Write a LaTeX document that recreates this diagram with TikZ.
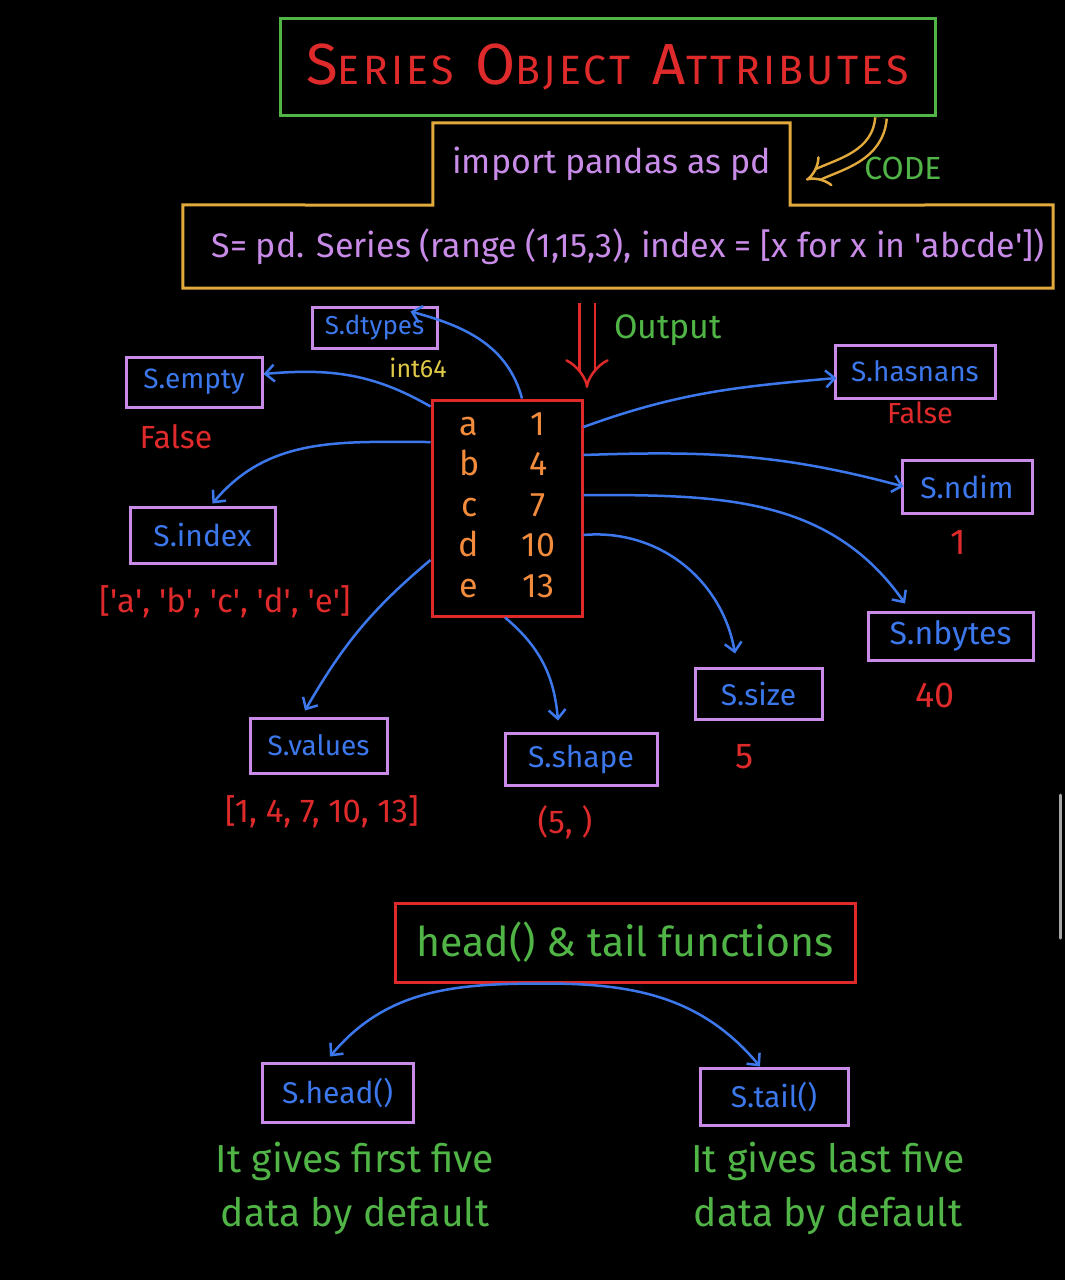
\documentclass[tikz,border=0pt]{standalone}
\usepackage{fontspec}
\setmainfont{Fira Sans}
\usetikzlibrary{arrows.meta}
\definecolor{cgreen}{RGB}{80,180,70}
\definecolor{cred}{RGB}{222,42,42}
\definecolor{cyellow}{RGB}{226,170,60}
\definecolor{cpurple}{RGB}{200,140,232}
\definecolor{cblue}{RGB}{60,120,236}
\definecolor{corange}{RGB}{242,140,60}
\definecolor{cint}{RGB}{222,200,70}
\newcommand\myfs[1]{\fontsize{#1}{#1}\selectfont}
\begin{document}
\begin{tikzpicture}[x=1pt,y=1pt,
  pbox/.style={draw=cpurple, line width=3pt, text=cblue, inner sep=0pt, font=\myfs{28}},
  conn/.style={draw=cblue, line width=2.5pt, -{Straight Barb[length=9pt,width=17pt]}},
  val/.style={text=cred, inner sep=0pt, font=\myfs{30}},
  note/.style={text=cgreen, inner sep=0pt, align=center, font=\fontsize{39}{54}\selectfont}]
\fill[black] (0,0) rectangle (1065,-1280);
\useasboundingbox (0,0) rectangle (1065,-1280);
% scrollbar
\draw[gray!70, line width=3pt, line cap=round] (1060,-795) -- (1060,-938);
% title
\node[draw=cgreen, line width=3pt, minimum width=655, minimum height=97, inner sep=0pt, text=cred]
  (title) at (607.5,-66.5)
  {\addfontfeature{LetterSpace=8}{\myfs{58}S}{\myfs{41}ERIES}\hspace{22pt}{\myfs{58}O}{\myfs{41}BJECT}\hspace{22pt}{\myfs{58}A}{\myfs{41}TTRIBUTES}};
% code boxes
\node[minimum width=357, minimum height=82, inner sep=0pt, text=cpurple, font=\myfs{34}]
  (imp) at (611.5,-164) {import pandas as pd};
\node[minimum width=870, minimum height=83, inner sep=0pt, text=cpurple, font=\myfs{34}]
  (ser) at (628,-246.5) {S= pd. Series (range (1,15,3), index = [x for x in \textquotesingle abcde\textquotesingle])};
\draw[cyellow, line width=3pt] ([xshift=-10pt]ser.north west) -- (imp.south west) -- (imp.north west) -- (imp.north east)
  -- (imp.south east) -- ([xshift=-10pt]ser.north east) -- ([xshift=-10pt]ser.south east) -- ([xshift=-10pt]ser.south west) -- cycle;
% CODE arrow
\node[text=cgreen, inner sep=0pt, font=\myfs{32}] (code) at (903,-168) {CODE};
\coordinate (codeA) at (881,-118);
\coordinate (codeB) at (806,-180);
\draw[cyellow, double=black, double distance=9pt, line width=2.5pt, -{Implies}] (codeA) to[out=-95,in=25] (codeB);
% Output arrow
\node[text=cgreen, inner sep=0pt, font=\myfs{34}] (outlbl) at (668,-330) {Output};
\coordinate (outA) at (587,-303);
\coordinate (outB) at (587,-388);
\draw[cred, double=black, double distance=13pt, line width=2.5pt, -{Implies}] (outA) -- (outB);
% table
\node[draw=cred, line width=3pt, minimum width=150, minimum height=216, inner sep=0pt, text=corange,
  font=\fontsize{34}{40.5}\selectfont] (tbl) at (507,-508)
  {\begin{tabular}{@{}c@{\hspace{42pt}}c@{}}a&1\\ b&4\\ c&7\\ d&10\\ e&13\end{tabular}};
% attribute boxes
\node[pbox, minimum width=125, minimum height=41, font=\myfs{26}] (dtypes) at (374.5,-327.5) {S.dtypes};
\node[text=cint, inner sep=0pt, font=\myfs{25}] (dtv) at (418,-368) {int64};
\node[pbox, minimum width=136, minimum height=50] (empty) at (194,-382) {S.empty};
\node[val, font=\myfs{32}] (emv) at (176,-437) {False};
\node[pbox, minimum width=145, minimum height=56, font=\myfs{30}] (index) at (202.5,-535) {S.index};
\node[val, font=\myfs{33}] (inv) at (225,-602) {[\textquotesingle a\textquotesingle, \textquotesingle b\textquotesingle, \textquotesingle c\textquotesingle, \textquotesingle d\textquotesingle, \textquotesingle e\textquotesingle]};
\node[pbox, minimum width=137, minimum height=55] (values) at (318.5,-745.5) {S.values};
\node[val, font=\myfs{33}] (vav) at (322,-812) {[1, 4, 7, 10, 13]};
\node[pbox, minimum width=152, minimum height=52, font=\myfs{30}] (shape) at (581,-759) {S.shape};
\node[val, font=\myfs{33}] (shv) at (565,-822) {(5, )};
\node[pbox, minimum width=127, minimum height=51, font=\myfs{30}] (size) at (758.5,-693.5) {S.size};
\node[val, font=\myfs{36}] (siv) at (745,-757) {5};
\node[pbox, minimum width=165, minimum height=48, font=\myfs{32}] (nbytes) at (950.5,-636) {S.nbytes};
\node[val, font=\myfs{36}] (nbv) at (935,-695) {40};
\node[pbox, minimum width=130, minimum height=53, font=\myfs{30}] (ndim) at (967,-486.5) {S.ndim};
\node[val, font=\myfs{36}] (ndv) at (958,-542) {1};
\node[pbox, minimum width=160, minimum height=53] (hasnans) at (915,-371.5) {S.hasnans};
\node[val, font=\myfs{29}] (hnv) at (920,-413) {False};
% connectors
\draw[conn] ([xshift=15pt]tbl.north) to[out=105,in=-15] ([xshift=36pt,yshift=-6pt]dtypes.north);
\draw[conn] ([yshift=-8pt]tbl.north west) to[out=150,in=5] ([yshift=8pt]empty.east);
\draw[conn] ([yshift=66pt]tbl.west) to[out=180,in=50] ([xshift=10pt,yshift=2pt]index.north);
\draw[conn] ([yshift=-52pt]tbl.west) to[out=-140,in=60] ([xshift=-13.5pt,yshift=6pt]values.north);
\draw[conn] ([xshift=-2pt]tbl.south) to[out=-40,in=95] ([xshift=-23pt,yshift=11pt]shape.north);
\draw[conn] ([yshift=-27pt]tbl.east) to[out=5,in=100] ([xshift=-23.5pt,yshift=13pt]size.north);
\draw[conn] ([yshift=13pt]tbl.east) to[out=0,in=125] ([xshift=-45.5pt,yshift=7pt]nbytes.north);
\draw[conn] ([yshift=53pt]tbl.east) to[out=2,in=165] ([xshift=3pt]ndim.west);
\draw[conn] ([yshift=81pt]tbl.east) to[out=20,in=185] ([xshift=3pt,yshift=-6.5pt]hasnans.west);
% head & tail
\node[draw=cred, line width=3pt, minimum width=460, minimum height=79, inner sep=0pt, text=cgreen, font=\myfs{41}]
  (hf) at (625,-942.5) {head() \& tail functions};
\node[pbox, minimum width=151, minimum height=59, font=\myfs{30}] (head) at (337.5,-1092.5) {S.head()};
\node[pbox, minimum width=148, minimum height=57, font=\myfs{30}] (tail) at (774,-1096.5) {S.tail()};
\draw[conn] ([xshift=-80pt]hf.south) to[out=180,in=50] ([xshift=-7.5pt,yshift=5pt]head.north);
\draw[conn] ([xshift=-80pt]hf.south) to[out=0,in=130] ([xshift=-14pt]tail.north);
\node[note] (hnote) at (355,-1188) {It gives first five\\data by default};
\node[note] (tnote) at (828,-1188) {It gives last five\\data by default};
\end{tikzpicture}
\end{document}
